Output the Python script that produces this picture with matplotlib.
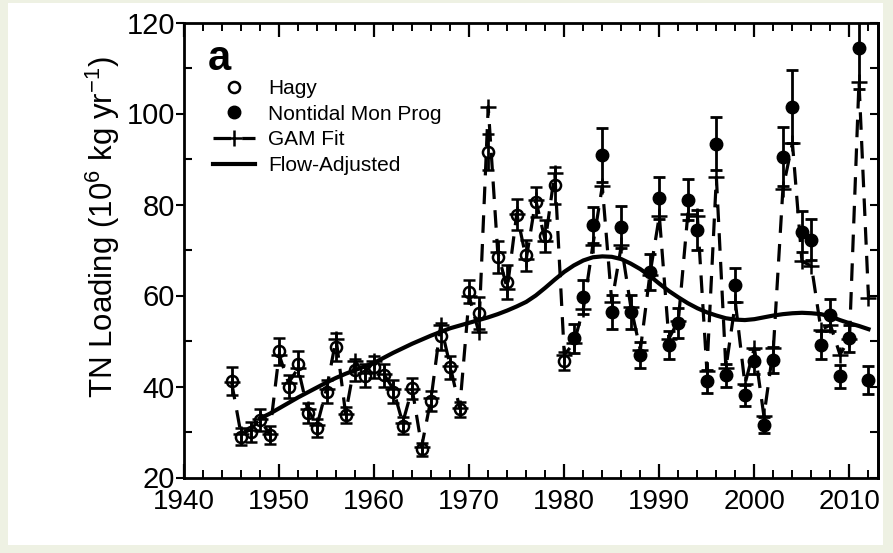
import matplotlib
matplotlib.use("Agg")
import matplotlib.pyplot as plt
from matplotlib.lines import Line2D
from matplotlib.patches import Rectangle
from matplotlib.ticker import MultipleLocator

plt.rcParams['font.family'] = ['Liberation Sans', 'DejaVu Sans']
plt.rcParams['mathtext.default'] = 'regular'

# ---------------- data ----------------
hagy_years = list(range(1945, 1981))
hagy_vals = [41.2, 29.0, 30.1, 32.6, 29.3, 47.7, 40.0, 45.0, 34.1, 30.8,
             38.9, 48.7, 33.8, 43.6, 42.4, 44.3, 42.5, 38.9, 31.4, 39.6,
             26.2, 36.8, 51.0, 44.2, 35.0, 60.8, 56.2, 91.6, 68.4, 63.0,
             77.8, 68.8, 80.6, 73.0, 84.2, 45.6]
hagy_err = [3.0, 1.8, 2.2, 2.4, 2.0, 3.0, 2.5, 2.8, 2.2, 2.0,
            2.5, 3.0, 1.8, 2.5, 2.5, 2.5, 2.5, 2.5, 1.8, 2.3,
            1.4, 2.2, 3.0, 2.6, 1.6, 2.5, 3.5, 4.0, 3.5, 3.8,
            3.5, 3.5, 3.3, 3.5, 4.0, 2.0]

nontidal_years = list(range(1981, 2013))
nontidal_vals = [50.6, 59.7, 75.5, 90.9, 56.4, 75.1, 56.4, 46.9, 65.2, 81.4,
                 49.1, 53.9, 81.0, 74.4, 41.1, 93.4, 42.5, 62.3, 38.1, 45.5,
                 31.5, 45.8, 90.5, 101.5, 74.0, 72.3, 49.1, 55.7, 42.2, 50.6,
                 114.3, 41.4]
nontidal_err = [3.2, 3.8, 4.0, 6.0, 3.8, 4.6, 3.8, 2.8, 4.0, 4.6,
                3.0, 3.3, 4.5, 4.5, 2.5, 5.8, 2.5, 3.8, 2.3, 2.8,
                1.8, 2.8, 6.5, 8.0, 4.5, 4.5, 3.0, 3.5, 2.5, 3.0,
                9.0, 3.0]

gam_years = list(range(1945, 2013))
gam_vals = [41.0, 29.5, 30.5, 32.8, 29.5, 47.0, 40.8, 44.0, 35.0, 31.5,
            39.5, 50.5, 34.0, 45.5, 43.0, 45.5, 42.8, 39.5, 32.0, 39.5,
            26.8, 37.5, 53.5, 44.5, 35.2, 59.8, 52.0, 101.5, 69.5, 61.5,
            78.0, 68.0, 81.0, 72.0, 87.0, 47.0, 49.5, 57.0, 71.0, 84.0,
            58.5, 71.0, 57.5, 48.0, 64.5, 77.5, 50.5, 54.5, 78.0, 77.5,
            43.5, 86.0, 44.0, 58.5, 40.5, 48.5, 33.5, 48.5, 83.5, 93.5,
            67.5, 66.5, 52.5, 53.5, 47.0, 50.5, 107.0, 59.5]

flow_years = list(range(1948, 2013))
flow_vals = [33.0, 34.0, 35.2, 36.4, 37.6, 38.7, 39.8, 40.9, 41.9, 42.8,
             43.6, 44.4, 45.2, 46.3, 47.4, 48.4, 49.4, 50.3, 51.2, 52.0,
             52.8, 53.4, 54.0, 54.6, 55.2, 55.9, 56.7, 57.6, 58.6, 60.0,
             61.7, 63.5, 65.2, 66.6, 67.7, 68.4, 68.6, 68.5, 68.0, 67.0,
             65.8, 64.3, 62.6, 61.0, 59.6, 58.3, 57.2, 56.3, 55.6, 55.0,
             54.7, 54.6, 54.8, 55.2, 55.6, 55.9, 56.1, 56.2, 56.1, 55.9,
             55.4, 54.6, 53.9, 53.3, 52.6]

legend_labels = ["Hagy", "Nontidal Mon Prog", "GAM Fit", "Flow-Adjusted"]
x_ticks = [1940, 1950, 1960, 1970, 1980, 1990, 2000, 2010]
y_ticks = [20, 40, 60, 80, 100, 120]

# ---------------- figure ----------------
W, H = 893, 553
fig = plt.figure(figsize=(W / 100, H / 100), dpi=100)
fig.patch.set_facecolor('#eef1e3')
fig.patches.append(Rectangle((8 / W, 8 / H), (W - 18) / W, (H - 11) / H,
                             transform=fig.transFigure, facecolor='white',
                             edgecolor='none', zorder=-5))

L, R, T, B = 184, 878, 22.5, 477.5
ax = fig.add_axes([L / W, 1 - B / H, (R - L) / W, (B - T) / H])
ax.set_zorder(2)
ax.set_facecolor('white')

ax.plot(gam_years, gam_vals, color='black', lw=2.3, ls=(0, (5.5, 3.5)),
        marker='+', ms=11, mew=1.8, zorder=2)
ax.errorbar(hagy_years, hagy_vals, yerr=hagy_err, fmt='o', mfc='none',
            mec='black', ms=8, mew=1.8, ecolor='black', elinewidth=2,
            capsize=4.3, capthick=2, zorder=3)
ax.errorbar(nontidal_years, nontidal_vals, yerr=nontidal_err, fmt='o',
            mfc='black', mec='black', ms=9, ecolor='black', elinewidth=2,
            capsize=4.3, capthick=2, zorder=3)
ax.plot(flow_years, flow_vals, color='black', lw=3, zorder=4)

ax.set_xlim(1940, 2013)
ax.set_ylim(20, 120)
for s in ax.spines.values():
    s.set_linewidth(2)

ax.set_xticks(x_ticks)
ax.set_xticklabels([str(v) for v in x_ticks],
                   family=['Liberation Sans Narrow', 'Liberation Sans'],
                   fontsize=20)
ax.xaxis.set_minor_locator(MultipleLocator(2))
ax.tick_params(axis='x', which='major', direction='in', length=10, width=1.6,
               top=True, pad=8)
ax.tick_params(axis='x', which='minor', direction='in', length=6, width=1.4,
               top=True)

ax.set_yticks(y_ticks)
ax.set_yticklabels([str(v) for v in y_ticks], fontsize=21)
ax.yaxis.set_minor_locator(MultipleLocator(10))
ax.tick_params(axis='y', which='major', direction='out', length=6, width=1.5,
               right=False, pad=0.5)
ax.tick_params(axis='y', which='minor', direction='in', length=6, width=1.5,
               right=False)
sec = ax.secondary_yaxis('right')
sec.set_yticks(list(range(20, 121, 10)))
sec.tick_params(direction='in', length=6, width=1.5, labelright=False)
sec.spines['right'].set_linewidth(2)

ax.set_ylabel('TN Loading (10$^6$ kg yr$^{-1}$)', fontsize=22.5)
ax.yaxis.set_label_coords((122 - L) / (R - L), (B - 227) / (B - T))

fig.text(208 / W, 1 - 70 / H, 'a', fontsize=30, fontweight='bold',
         ha='left', va='baseline', zorder=5)

handles = [
    Line2D([], [], ls='none', marker='o', mfc='none', mec='black', ms=8, mew=1.8),
    Line2D([], [], ls='none', marker='o', mfc='black', mec='black', ms=9),
    Line2D([], [], color='black', lw=2.3, ls=(0, (5.5, 3.5)), marker='+', ms=11, mew=1.8),
    Line2D([], [], color='black', lw=3),
]
ax.legend(handles, legend_labels, loc='upper left',
          bbox_to_anchor=(213 / W, 1 - 79 / H), bbox_transform=fig.transFigure,
          frameon=False, fontsize=15, handlelength=2.0, handletextpad=0.65,
          labelspacing=0.32, borderpad=0, borderaxespad=0, numpoints=1)

fig.savefig('out.png', dpi=100, facecolor=fig.get_facecolor())
